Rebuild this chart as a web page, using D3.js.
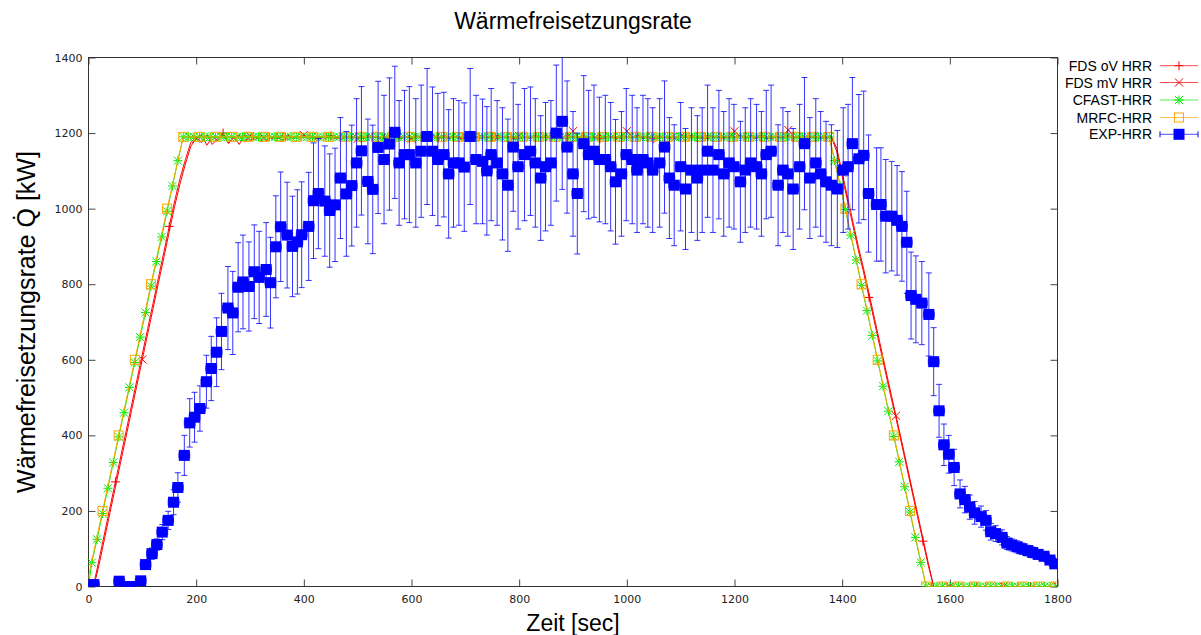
<!DOCTYPE html>
<html><head><meta charset="utf-8">
<script src="https://cdn.jsdelivr.net/npm/d3@7"></script>
<style>body{margin:0;background:#fff}svg{display:block}</style>
</head><body>
<svg id="c" width="1201" height="635"></svg>
<script>
// ---------- DATA ----------
const xTicks = [0,200,400,600,800,1000,1200,1400,1600,1800];
const yTicks = [0,200,400,600,800,1000,1200,1400];
const seriesNames = ["FDS oV HRR","FDS mV HRR","CFAST-HRR","MRFC-HRR","EXP-HRR"];

// FDS (sampled every 10 s from t=0)
const fdsStep = 10;
const fdsOvHRR = [0,7,74,142,210,277,345,412,480,547,615,683,750,818,885,953,1020,1080,1130,1175,
1190,1175,1195,1170,1185,1200,1175,1190,1170,1195,1180,1192,1178,1196,1185,1190,1180,1195,1186,1192,
1188,1195,1183,1190,1186,1193,1188,1184,1192,1187,1190,1185,1193,1188,1190,1186,1192,1188,1185,1191,
1188,1192,1186,1190,1194,1187,1190,1185,1192,1189,1186,1191,1188,1193,1187,1190,1185,1192,1188,1190,
1186,1191,1188,1194,1187,1190,1185,1192,1189,1186,1191,1188,1193,1187,1190,1185,1192,1188,1190,1186,
1191,1188,1194,1187,1190,1185,1192,1189,1186,1191,1188,1193,1187,1190,1185,1192,1188,1190,1186,1191,
1188,1194,1187,1190,1185,1192,1189,1186,1191,1188,1193,1187,1190,1185,1192,1188,1190,1186,1190,
1150,1085,1020,955,890,830,765,700,635,570,505,445,380,315,250,185,120,55,0,
0,0,0,0,0,0,0,0,0,0,0,0,0,0,0,0,0,0,0,0,0,0,0];
const fdsMvHRR = [0,0,60,128,196,263,331,398,466,533,601,669,736,804,871,939,1006,1066,1118,1165,
1185,1195,1168,1190,1180,1198,1172,1188,1195,1176,1192,1183,1196,1180,1190,1186,1194,1182,1190,1187,
1195,1186,1190,1184,1192,1188,1186,1193,1187,1190,1185,1192,1188,1190,1186,1191,1188,1194,1187,1190,
1185,1192,1189,1186,1191,1188,1193,1187,1190,1185,1192,1188,1190,1186,1191,1188,1194,1187,1190,1185,
1192,1189,1186,1191,1188,1193,1187,1190,1185,1192,1205,1190,1186,1191,1188,1194,1187,1190,1185,1192,
1205,1188,1191,1186,1190,1185,1192,1188,1190,1186,1191,1188,1194,1187,1190,1185,1192,1188,1190,1186,
1205,1191,1188,1194,1187,1190,1185,1192,1189,1186,1208,1190,1187,1191,1188,1190,1186,1191,1190,
1160,1095,1030,965,900,840,775,710,645,580,515,452,388,323,258,193,128,62,0,
0,0,0,0,0,0,0,0,0,0,0,0,0,0,0,0,0,0,0,0,0,0,0];

// CFAST (first point t=0, then every 10 s starting at t=6)
const cfastFirst = 6, cfastStep = 10;
const cfastHRR0 = 0;
const cfastHRR = [63,125,193,260,328,396,460,527,593,660,725,795,860,925,993,1060,1127,1190,
1190,1190,1190,1190,1190,1190,1190,1190,1190,1190,1190,1190,1190,1190,1190,1190,1190,1190,1190,1190,
1190,1190,1190,1190,1190,1190,1190,1190,1190,1190,1190,1190,1190,1190,1190,1190,1190,1190,1190,1190,
1190,1190,1190,1190,1190,1190,1190,1190,1190,1190,1190,1190,1190,1190,1190,1190,1190,1190,1190,1190,
1190,1190,1190,1190,1190,1190,1190,1190,1190,1190,1190,1190,1190,1190,1190,1190,1190,1190,1190,1190,
1190,1190,1190,1190,1190,1190,1190,1190,1190,1190,1190,1190,1190,1190,1190,1190,1190,1190,1190,1190,
1190,1190,1190,1190,1190,1190,1190,1190,1190,1190,1190,1190,1190,1190,1190,1190,1190,1190,1190,1190,
1127,1062,998,930,864,797,730,664,597,530,464,397,330,264,197,130,64,0,
0,0,0,0,0,0,0,0,0,0,0,0,0,0,0,0,0,0,0,0,0,0,0,0];

// MRFC (every 30 s starting at t=-4)
const mrfcFirst = -4, mrfcStep = 30;
const mrfcHRR = [0,200,400,600,800,1000,
1190,1190,1190,1190,1190,1190,1190,1190,1190,1190,1190,1190,1190,1190,1190,1190,1190,1190,1190,1190,
1190,1190,1190,1190,1190,1190,1190,1190,1190,1190,1190,1190,1190,1190,1190,1190,1190,1190,1190,1190,1190,
1000,800,600,400,200,0,0,0,0,0,0,0,0,0];

// Experiment
const expTime = [0,10,57,70,81,97,106,118,127,137,148,158,166,178,188,197,207,219,228,238,247,259,268,278,287,298,308,317,330,338,348,357,369,379,388,396,409,418,427,439,448,458,468,479,489,498,507,519,528,538,549,559,569,577,587,596,608,618,629,639,649,660,669,678,688,698,709,720,732,740,748,759,769,779,789,798,810,821,830,840,849,859,869,880,889,900,908,920,929,939,949,960,970,979,990,999,1010,1019,1030,1039,1048,1061,1070,1079,1088,1100,1109,1120,1131,1140,1150,1160,1171,1180,1190,1199,1211,1220,1230,1241,1250,1259,1268,1281,1290,1299,1309,1321,1330,1340,1351,1360,1370,1380,1391,1402,1411,1419,1431,1440,1449,1464,1472,1481,1492,1502,1511,1520,1528,1537,1548,1561,1570,1580,1589,1598,1608,1619,1628,1637,1646,1658,1667,1676,1685,1697,1706,1715,1725,1734,1745,1754,1764,1775,1786,1795];
const expHRR = [4,5,14,0,0,15,58,87,111,144,175,223,262,347,433,448,471,542,577,620,675,737,724,792,806,794,833,818,839,804,899,952,930,900,912,931,953,1021,1040,1020,995,1010,1081,1039,1061,1121,1153,1072,1051,1162,1130,1171,1202,1121,1143,1143,1121,1152,1191,1152,1130,1143,1092,1121,1121,1110,1191,1130,1125,1100,1143,1121,1092,1062,1163,1111,1143,1152,1121,1081,1111,1121,1200,1231,1163,1092,1040,1172,1143,1152,1130,1130,1111,1071,1092,1143,1130,1102,1130,1121,1102,1121,1163,1081,1062,1111,1052,1102,1081,1102,1152,1102,1143,1092,1121,1111,1071,1102,1121,1111,1092,1143,1152,1062,1102,1092,1052,1111,1172,1081,1121,1092,1071,1062,1052,1102,1111,1172,1132,1141,1040,1011,1011,980,980,969,953,911,770,760,750,720,595,465,375,350,315,245,230,210,195,185,175,145,140,130,115,110,105,100,95,90,85,80,70,60];
const expErr = [3,3,5,3,3,5,12,15,15,20,24,33,39,53,64,66,60,70,85,91,101,110,110,118,124,118,124,122,124,120,135,145,140,133,138,140,143,153,146,146,150,150,160,165,160,170,170,165,170,175,170,175,175,165,170,180,170,175,180,170,175,165,170,170,165,170,180,170,165,170,175,165,175,175,170,165,175,170,170,165,170,165,180,180,175,165,160,180,170,175,165,170,170,165,165,175,170,165,170,170,165,170,175,160,160,170,160,165,165,165,175,165,170,165,170,165,160,165,170,165,165,170,175,160,165,165,160,165,175,160,170,165,160,160,155,165,165,175,170,170,155,150,150,150,145,145,145,135,115,115,110,110,90,70,55,50,48,37,35,32,30,28,26,22,21,20,17,16,16,15,14,14,13,12,10,9];
const expTimeErr = 10;

// ---------- CHART ----------
(function(){
const svg = d3.select("#c");
const W = 1201, H = 635;
const pL = 88.5, pR = 1057.5, pT = 57.5, pB = 586.5;
const x = d3.scaleLinear().domain([0,1800]).range([pL,pR]);
const y = d3.scaleLinear().domain([0,1400]).range([pB,pT]);
const FONT = "'Liberation Sans', Arial, sans-serif";
const TFONT = "'DejaVu Sans', Verdana, sans-serif";

svg.append("rect").attr("width",W).attr("height",H).attr("fill","#fff");

svg.append("defs").append("clipPath").attr("id","plot")
  .append("rect").attr("x",pL).attr("y",pT).attr("width",pR-pL).attr("height",pB-pT);

function styleAxis(g){
  g.select(".domain").remove();
  g.selectAll(".tick line").attr("stroke","#444");
  g.selectAll(".tick text").attr("fill","#222").attr("font-family",TFONT).attr("font-size",11);
}
svg.append("g").attr("transform",`translate(0,${pB})`)
  .call(d3.axisBottom(x).tickValues(xTicks).tickSize(-7).tickPadding(9).tickFormat(d3.format("d")))
  .call(styleAxis);
svg.append("g").attr("transform",`translate(0,${pT})`)
  .call(d3.axisTop(x).tickValues(xTicks).tickSize(-7).tickFormat(""))
  .call(styleAxis);
svg.append("g").attr("transform",`translate(${pL},0)`)
  .call(d3.axisLeft(y).tickValues(yTicks).tickSize(-7).tickPadding(6).tickFormat(d3.format("d")))
  .call(styleAxis);
svg.append("g").attr("transform",`translate(${pR},0)`)
  .call(d3.axisRight(y).tickValues(yTicks).tickSize(-7).tickFormat(""))
  .call(styleAxis);

svg.append("rect").attr("x",pL).attr("y",pT).attr("width",pR-pL).attr("height",pB-pT)
  .attr("fill","none").attr("stroke","#333").attr("stroke-width",1);

svg.append("text").attr("x",573).attr("y",29).attr("text-anchor","middle")
  .attr("font-family",FONT).attr("font-size",23).attr("fill","#000").text("Wärmefreisetzungsrate");
svg.append("text").attr("x",573).attr("y",631).attr("text-anchor","middle")
  .attr("font-family",FONT).attr("font-size",23).attr("fill","#000").text("Zeit [sec]");
svg.append("text").attr("transform","translate(35,322) rotate(-90)").attr("text-anchor","middle")
  .attr("font-family",FONT).attr("font-size",25).attr("fill","#000").text("Wärmefreisetzungsrate Q\u0307 [kW]");

function marker(g, type, cx, cy, color){
  const s = 4.5;
  if(type==="plus"||type==="star"){
    g.append("path").attr("d",`M${cx-s},${cy}H${cx+s}M${cx},${cy-s}V${cy+s}`).attr("stroke",color).attr("stroke-width",1).attr("fill","none");
  }
  if(type==="cross"||type==="star"){
    const k = s*0.9;
    g.append("path").attr("d",`M${cx-k},${cy-k}L${cx+k},${cy+k}M${cx-k},${cy+k}L${cx+k},${cy-k}`).attr("stroke",color).attr("stroke-width",1).attr("fill","none");
  }
  if(type==="square"){
    g.append("rect").attr("x",cx-4.5).attr("y",cy-4.5).attr("width",9).attr("height",9).attr("fill","none").attr("stroke",color).attr("stroke-width",1);
  }
}

const plot = svg.append("g").attr("clip-path","url(#plot)");
const line = d3.line().x(d=>x(d[0])).y(d=>y(d[1]));

function drawModel(pts, color, type, markIdx){
  const g = plot.append("g");
  g.append("path").datum(pts).attr("d",line).attr("fill","none").attr("stroke",color).attr("stroke-width",1);
  pts.forEach((p,i)=>{ if(markIdx(i)) marker(g,type,x(p[0]),y(p[1]),color); });
}

const fdsOvPts = fdsOvHRR.map((v,i)=>[i*fdsStep, v]);
const fdsMvPts = fdsMvHRR.map((v,i)=>[i*fdsStep, v]);
const cfastPts = [[0,cfastHRR0]].concat(cfastHRR.map((v,i)=>[cfastFirst+i*cfastStep, v]));
const mrfcPts = mrfcHRR.map((v,i)=>[mrfcFirst+i*mrfcStep, v]);

drawModel(fdsOvPts, "#ff0000", "plus", i=> i%10===5);
drawModel(fdsMvPts, "#ff0000", "cross", i=> i%10===0 && i>0);
drawModel(cfastPts, "#00ee00", "star", i=> i>0);
drawModel(mrfcPts, "#ffa500", "square", i=> true);

const eg = plot.append("g");
const BLUE = "#0000ff";
const n = Math.min(expTime.length, expHRR.length, expErr.length);
for(let i=0;i<n;i++){
  const t = expTime[i], v = expHRR[i], e = expErr[i];
  const cx = x(t), cy = y(v);
  const y1 = y(v-e), y2 = y(v+e), x1 = x(t-expTimeErr), x2 = x(t+expTimeErr);
  eg.append("path").attr("d",`M${cx},${y1}V${y2}M${cx-3},${y1}H${cx+3}M${cx-3},${y2}H${cx+3}M${x1},${cy}H${x2}M${x1},${cy-3}V${cy+3}M${x2},${cy-3}V${cy+3}`)
    .attr("stroke",BLUE).attr("stroke-width",1).attr("stroke-opacity",0.8).attr("fill","none");
}
for(let i=0;i<n;i++){
  eg.append("rect").attr("x",x(expTime[i])-5.5).attr("y",y(expHRR[i])-5.5).attr("width",11).attr("height",11).attr("fill",BLUE);
}

const lg = svg.append("g");
const legY = [65.7,82.5,100,117.5,134.3];
const legStyle = [["#ff0000","plus"],["#ff0000","cross"],["#00ee00","star"],["#ffa500","square"],[BLUE,"exp"]];
seriesNames.forEach((nm,i)=>{
  const yy = legY[i];
  lg.append("text").attr("x",1152).attr("y",yy+5).attr("text-anchor","end")
    .attr("font-family",FONT).attr("font-size",14).attr("fill","#000").text(nm);
  const [c,t] = legStyle[i];
  lg.append("path").attr("d",`M1160,${yy}H1198`).attr("stroke",c).attr("stroke-width",1).attr("stroke-opacity",0.7);
  if(t==="exp"){
    lg.append("path").attr("d",`M1160,${yy-3}V${yy+3}M1198,${yy-3}V${yy+3}`).attr("stroke",c).attr("stroke-width",1);
    lg.append("rect").attr("x",1179-5.5).attr("y",yy-5.5).attr("width",11).attr("height",11).attr("fill",c);
  } else marker(lg,t,1179,yy,c);
});
})();
</script>
</body></html>
